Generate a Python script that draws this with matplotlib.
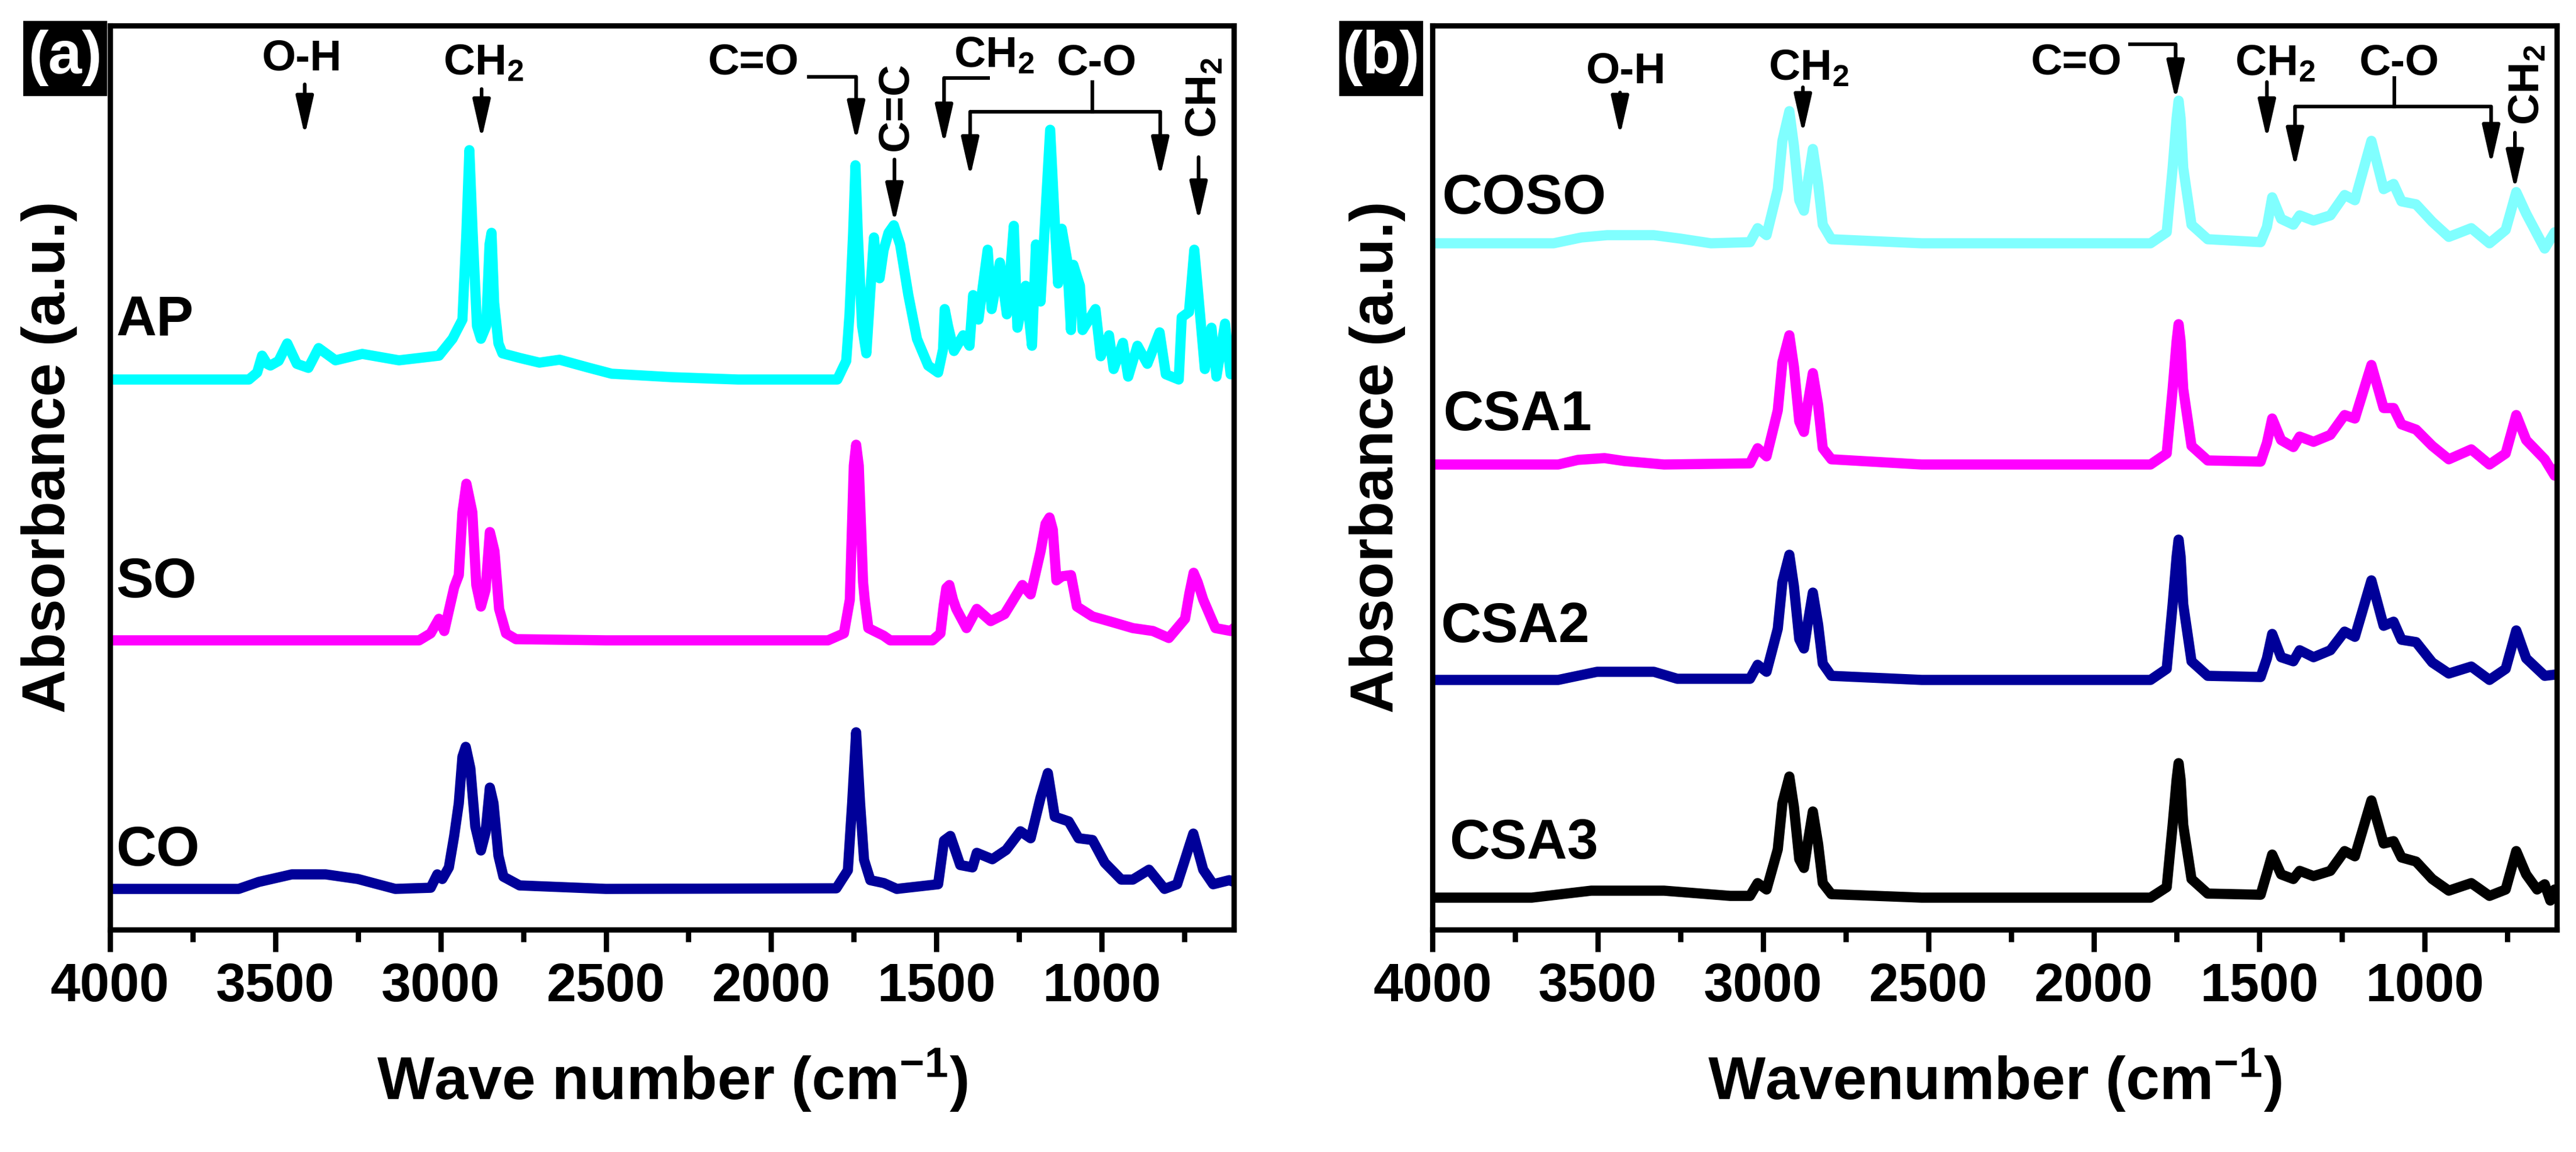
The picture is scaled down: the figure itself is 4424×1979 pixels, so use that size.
import matplotlib
matplotlib.use('Agg')
import matplotlib.pyplot as plt
from matplotlib.ticker import MultipleLocator
from matplotlib.patches import Rectangle

plt.rcParams['font.family'] = ['Liberation Sans', 'DejaVu Sans']
plt.rcParams['font.weight'] = 'bold'
plt.rcParams['axes.labelweight'] = 'bold'
plt.rcParams['mathtext.fontset'] = 'custom'
plt.rcParams['mathtext.rm'] = 'Liberation Sans:bold'
plt.rcParams['mathtext.it'] = 'Liberation Sans:bold'
plt.rcParams['mathtext.bf'] = 'Liberation Sans:bold'

# ---- panel (a): AP, SO, CO (wavenumber in cm-1, absorbance a.u. above own baseline)
ap_wn = [4000, 3580, 3555, 3540, 3525, 3515, 3490, 3464, 3435, 3400, 3369, 3318, 3237, 3126, 3005,
         2964, 2934, 2922, 2913, 2903, 2890, 2878, 2862, 2852, 2846, 2838, 2825, 2813, 2760, 2701,
         2640, 2550, 2483, 2300, 2100, 1800, 1773, 1763, 1752, 1745, 1738, 1725, 1712, 1700, 1689,
         1680, 1672, 1660, 1645, 1629, 1610, 1585, 1559, 1525, 1495, 1480, 1475, 1465, 1447, 1419,
         1400, 1389, 1373, 1345, 1333, 1308, 1287, 1266, 1255, 1230, 1211, 1199, 1185, 1156, 1141,
         1132, 1121, 1105, 1093, 1086, 1066, 1058, 1019, 1003, 978, 964, 936, 920, 892, 862,
         825, 806, 767, 758, 736, 720, 704, 688, 668, 653, 627, 610, 600]
ap_abs = [0, 0, 0.012, 0.041, 0.027, 0.024, 0.032, 0.062, 0.027, 0.020, 0.054, 0.033, 0.044, 0.033, 0.041,
          0.070, 0.103, 0.252, 0.394, 0.252, 0.092, 0.070, 0.092, 0.232, 0.252, 0.132, 0.062, 0.045, 0.037, 0.029,
          0.034, 0.020, 0.010, 0.004, 0, 0, 0.032, 0.112, 0.252, 0.368, 0.252, 0.092, 0.045, 0.152, 0.244,
          0.182, 0.174, 0.222, 0.252, 0.265, 0.232, 0.145, 0.070, 0.024, 0.012, 0.052, 0.121, 0.092, 0.049, 0.076,
          0.058, 0.145, 0.103, 0.223, 0.121, 0.201, 0.112, 0.264, 0.089, 0.161, 0.058, 0.232, 0.134, 0.429, 0.259,
          0.165, 0.259, 0.206, 0.085, 0.197, 0.161, 0.085, 0.121, 0.040, 0.076, 0.018, 0.063, 0.005, 0.058, 0.027,
          0.081, 0.009, 0, 0.107, 0.116, 0.223, 0.121, 0.018, 0.089, 0.005, 0.096, 0.009, 0.036]

so_wn = [4000, 3065, 3030, 3005, 2989, 2959, 2945, 2934, 2922, 2904, 2892, 2878, 2864, 2851, 2837,
         2823, 2802, 2772, 2500, 1828, 1780, 1762, 1750, 1743, 1735, 1722, 1717, 1706, 1660, 1640,
         1512, 1488, 1478, 1470, 1461, 1450, 1440, 1409, 1378, 1336, 1294, 1240, 1215, 1185, 1170,
         1158, 1148, 1137, 1120, 1093, 1075, 1028, 954, 906, 845, 797, 748, 735, 722, 710,
         693, 656, 609, 600]
so_abs = [0, 0, 0.012, 0.037, 0.016, 0.091, 0.112, 0.220, 0.269, 0.220, 0.095, 0.058, 0.087, 0.186, 0.153,
          0.054, 0.012, 0.002, 0, 0, 0.012, 0.070, 0.300, 0.336, 0.300, 0.100, 0.070, 0.021, 0.008, 0,
          0, 0.012, 0.060, 0.090, 0.095, 0.070, 0.054, 0.021, 0.054, 0.033, 0.045, 0.095, 0.079, 0.153, 0.200,
          0.211, 0.190, 0.103, 0.110, 0.112, 0.058, 0.041, 0.029, 0.021, 0.016, 0.004, 0.037, 0.080, 0.116, 0.100,
          0.070, 0.021, 0.016, 0.021]

co_wn = [4000, 3611, 3550, 3450, 3348, 3250, 3137, 3030, 3010, 2995, 2975, 2959, 2945, 2934, 2924,
         2910, 2895, 2878, 2864, 2851, 2840, 2825, 2810, 2761, 2500, 1803, 1768, 1755, 1743, 1731,
         1719, 1700, 1659, 1620, 1495, 1477, 1458, 1428, 1391, 1378, 1331, 1289, 1246, 1215, 1185,
         1163, 1142, 1100, 1070, 1028, 991, 941, 906, 857, 810, 772, 723, 693, 663, 614, 600]
co_abs = [0, 0, 0.012, 0.025, 0.025, 0.017, 0, 0.002, 0.025, 0.017, 0.037, 0.091, 0.147, 0.227, 0.244,
          0.207, 0.107, 0.066, 0.097, 0.174, 0.147, 0.057, 0.021, 0.006, 0, 0.001, 0.032, 0.147, 0.269, 0.147,
          0.050, 0.015, 0.010, 0, 0.008, 0.083, 0.091, 0.041, 0.037, 0.062, 0.051, 0.067, 0.099, 0.087, 0.157,
          0.199, 0.124, 0.116, 0.087, 0.084, 0.045, 0.016, 0.016, 0.033, 0, 0.008, 0.095, 0.033, 0.008, 0.015, 0.012]

# ---- panel (b): COSO, CSA1, CSA2, CSA3
coso_wn = [4000, 3634, 3550, 3472, 3331, 3250, 3158, 3040, 3017, 2990, 2956, 2942, 2921, 2907, 2891,
           2877, 2866, 2850, 2834, 2820, 2794, 2521, 1829, 1780, 1762, 1750, 1744, 1738, 1730, 1705,
           1656, 1496, 1477, 1461, 1434, 1397, 1378, 1336, 1285, 1242, 1211, 1161, 1124, 1094, 1070,
           1026, 977, 927, 859, 804, 755, 723, 693, 637, 607, 600]
coso_abs = [0, 0, 0.010, 0.014, 0.014, 0.008, 0, 0.002, 0.026, 0.014, 0.093, 0.176, 0.227, 0.167, 0.074,
            0.056, 0.102, 0.162, 0.102, 0.032, 0.007, 0, 0, 0.019, 0.130, 0.215, 0.245, 0.215, 0.130, 0.032,
            0.007, 0.002, 0.028, 0.079, 0.042, 0.032, 0.048, 0.039, 0.048, 0.083, 0.074, 0.176, 0.093, 0.102, 0.072,
            0.067, 0.037, 0.011, 0.026, 0, 0.023, 0.088, 0.051, -0.009, 0.019, 0.015]

csa1_wn = [4000, 3620, 3560, 3480, 3420, 3300, 3040, 3017, 2990, 2956, 2942, 2921, 2907, 2891, 2877, 2866,
           2850, 2834, 2820, 2794, 2521, 1829, 1780, 1762, 1750, 1744, 1738, 1730, 1705, 1656, 1496,
           1477, 1461, 1434, 1397, 1378, 1336, 1285, 1242, 1211, 1161, 1124, 1094, 1070, 1026, 977,
           927, 859, 804, 755, 723, 693, 637, 607, 600]
csa1_abs = [0, 0, 0.008, 0.011, 0.006, 0, 0.002, 0.028, 0.014, 0.093, 0.176, 0.222, 0.167, 0.074, 0.056, 0.102,
            0.157, 0.102, 0.028, 0.009, 0, 0, 0.019, 0.130, 0.212, 0.241, 0.212, 0.130, 0.032, 0.007, 0.005,
            0.037, 0.079, 0.042, 0.030, 0.048, 0.039, 0.051, 0.085, 0.079, 0.171, 0.097, 0.097, 0.069, 0.060, 0.032,
            0.009, 0.026, 0, 0.019, 0.085, 0.042, 0.009, -0.019, -0.010]

csa2_wn = [4000, 3620, 3502, 3331, 3260, 3040, 3017, 2990, 2956, 2942, 2921, 2907, 2891, 2877, 2866,
           2850, 2834, 2820, 2794, 2521, 1829, 1780, 1762, 1750, 1744, 1738, 1730, 1705, 1656, 1496,
           1477, 1461, 1434, 1397, 1378, 1336, 1285, 1242, 1211, 1161, 1124, 1094, 1070, 1026, 977,
           927, 859, 804, 755, 723, 693, 637, 607, 600]
csa2_abs = [0, 0, 0.014, 0.014, 0.002, 0.002, 0.026, 0.014, 0.088, 0.168, 0.215, 0.160, 0.070, 0.054, 0.095,
            0.150, 0.095, 0.028, 0.007, 0, 0, 0.019, 0.130, 0.212, 0.241, 0.212, 0.130, 0.032, 0.007, 0.005,
            0.037, 0.079, 0.039, 0.032, 0.051, 0.039, 0.051, 0.083, 0.074, 0.171, 0.093, 0.100, 0.069, 0.065, 0.030,
            0.011, 0.023, 0, 0.019, 0.085, 0.037, 0.007, 0.009, 0.009]

csa3_wn = [4000, 3700, 3520, 3300, 3100, 3040, 3017, 2990, 2956, 2942, 2921, 2907, 2891, 2877, 2866,
           2850, 2834, 2820, 2794, 2521, 1829, 1780, 1762, 1750, 1744, 1738, 1730, 1705, 1656, 1496,
           1477, 1461, 1434, 1397, 1378, 1336, 1285, 1242, 1211, 1161, 1124, 1094, 1070, 1026, 977,
           927, 859, 804, 755, 723, 693, 660, 637, 620, 607, 600]
csa3_abs = [0, 0, 0.012, 0.012, 0.003, 0.003, 0.025, 0.014, 0.083, 0.162, 0.208, 0.155, 0.066, 0.051, 0.092,
            0.148, 0.092, 0.025, 0.006, 0, 0, 0.018, 0.125, 0.203, 0.231, 0.203, 0.125, 0.032, 0.007, 0.005,
            0.042, 0.074, 0.040, 0.032, 0.046, 0.037, 0.046, 0.080, 0.071, 0.167, 0.093, 0.097, 0.069, 0.062, 0.032,
            0.012, 0.025, 0.003, 0.014, 0.080, 0.040, 0.014, 0.023, -0.005, 0.014, 0.010]

names_a = ['AP', 'SO', 'CO']
offsets_a = [0.945, 0.497, 0.070]
colors_a = ['#00FFFF', '#FF00FF', '#000099']
label_y_a = [1.020, 0.571, 0.110]

names_b = ['COSO', 'CSA1', 'CSA2', 'CSA3']
offsets_b = [1.179, 0.799, 0.429, 0.055]
colors_b = ['#80FFFF', '#FF00FF', '#000099', '#000000']
label_y_b = [1.230, 0.858, 0.494, 0.122]
label_x_b = [3972, 3968, 3975, 3949]

W, H = 4424, 1979
fig = plt.figure(figsize=(W / 300, H / 300), dpi=300)
ax_a = fig.add_axes([0.04272, 0.1930, 0.4363, 0.7848])
ax_b = fig.add_axes([0.5561, 0.1930, 0.4365, 0.7848])

for ax in (ax_a, ax_b):
    ax.set_xlim(4000, 600)
    ax.set_ylim(0, 1.553)
    ax.xaxis.set_major_locator(MultipleLocator(500))
    ax.xaxis.set_minor_locator(MultipleLocator(250))
    ax.tick_params(axis='x', which='major', direction='out', length=9, width=2.2,
                   labelsize=22, pad=4.5)
    ax.tick_params(axis='x', which='minor', direction='out', length=5, width=2.2)
    ax.tick_params(axis='y', which='both', left=False, labelleft=False)
    for s in ax.spines.values():
        s.set_linewidth(2.2)

LW = 4.2

spectra_a = [(ap_wn, ap_abs), (so_wn, so_abs), (co_wn, co_abs)]
for (wn, ab), off, c, name, ly in zip(spectra_a, offsets_a, colors_a, names_a, label_y_a):
    ax_a.plot(wn, [v + off for v in ab], color=c, lw=LW, solid_joinstyle='round')
    ax_a.text(3982, ly, name, fontsize=23, ha='left', va='baseline')

spectra_b = [(coso_wn, coso_abs), (csa1_wn, csa1_abs), (csa2_wn, csa2_abs), (csa3_wn, csa3_abs)]
for (wn, ab), off, c, name, ly, lx in zip(spectra_b, offsets_b, colors_b, names_b, label_y_b, label_x_b):
    ax_b.plot(wn, [v + off for v in ab], color=c, lw=LW, solid_joinstyle='round')
    ax_b.text(lx, ly, name, fontsize=23, ha='left', va='baseline')

ax_a.set_xlabel('Wave number (cm$^{-1}$)', fontsize=25, fontweight='bold', labelpad=14)
ax_b.set_xlabel('Wavenumber (cm$^{-1}$)', fontsize=25, fontweight='bold', labelpad=14)
ax_a.set_ylabel('Absorbance (a.u.)', fontsize=25, fontweight='bold')
ax_b.set_ylabel('Absorbance (a.u.)', fontsize=25, fontweight='bold')
ax_a.yaxis.set_label_coords(-0.029, 0.523)
ax_b.yaxis.set_label_coords(-0.024, 0.523)

AFS = 18
ALW = 1.5


def arrow(ax, x, y0, y1):
    ax.annotate('', xy=(x, y1), xytext=(x, y0),
                arrowprops=dict(arrowstyle='-|>,head_length=0.75,head_width=0.17',
                                lw=ALW, color='k', shrinkA=0, shrinkB=0, mutation_scale=AFS))


def hline(ax, x0, x1, y):
    ax.plot([x0, x1], [y, y], color='k', lw=ALW, solid_capstyle='butt')


# panel (a) band labels
ax_a.text(3419, 1.476, 'O-H', fontsize=AFS, ha='center', va='baseline')
arrow(ax_a, 3411, 1.452, 1.364)
ax_a.text(2870, 1.469, 'CH$_2$', fontsize=AFS, ha='center', va='baseline')
arrow(ax_a, 2876, 1.444, 1.358)
ax_a.text(1916, 1.469, 'C=O', fontsize=AFS, ha='right', va='baseline')
hline(ax_a, 1891, 1743, 1.465)
arrow(ax_a, 1743, 1.465, 1.355)
ax_a.text(1622, 1.414, 'C=C', fontsize=AFS, ha='center', va='center', rotation=90)
arrow(ax_a, 1627, 1.323, 1.214)
ax_a.text(1447, 1.482, 'CH$_2$', fontsize=AFS, ha='left', va='baseline')
hline(ax_a, 1338, 1477, 1.463)
arrow(ax_a, 1477, 1.463, 1.349)
ax_a.text(1015, 1.468, 'C-O', fontsize=AFS, ha='center', va='baseline')
ax_a.plot([1028, 1028], [1.456, 1.405], color='k', lw=ALW)
hline(ax_a, 1398, 823, 1.405)
arrow(ax_a, 1398, 1.405, 1.293)
arrow(ax_a, 823, 1.405, 1.293)
ax_a.text(688, 1.429, 'CH$_2$', fontsize=AFS, ha='center', va='center', rotation=90)
arrow(ax_a, 707, 1.327, 1.217)

# panel (b) band labels
ax_b.text(3415, 1.454, 'O-H', fontsize=AFS, ha='center', va='baseline')
arrow(ax_b, 3433, 1.438, 1.364)
ax_b.text(2862, 1.460, 'CH$_2$', fontsize=AFS, ha='center', va='baseline')
arrow(ax_b, 2880, 1.447, 1.367)
ax_b.text(1915, 1.469, 'C=O', fontsize=AFS, ha='right', va='baseline')
hline(ax_b, 1897, 1753, 1.521)
arrow(ax_b, 1753, 1.521, 1.425)
ax_b.text(1574, 1.468, 'CH$_2$', fontsize=AFS, ha='left', va='baseline')
arrow(ax_b, 1477, 1.456, 1.358)
ax_b.text(1077, 1.468, 'C-O', fontsize=AFS, ha='center', va='baseline')
ax_b.plot([1091, 1091], [1.463, 1.414], color='k', lw=ALW)
hline(ax_b, 1392, 799, 1.414)
arrow(ax_b, 1392, 1.414, 1.309)
arrow(ax_b, 799, 1.414, 1.314)
ax_b.text(688, 1.451, 'CH$_2$', fontsize=AFS, ha='center', va='center', rotation=90)
arrow(ax_b, 727, 1.369, 1.271)

# panel tags
for x0, tag in ((42, '(a)'), (2302, '(b)')):
    fig.add_artist(Rectangle((x0 / W, 1 - 163 / H), 140 / W, 125 / H,
                             transform=fig.transFigure, color='black'))
    fig.text((x0 + 70) / W, 1 - 100 / H, tag, color='white', fontsize=25,
             ha='center', va='center')

fig.savefig('out.png', dpi=300)
